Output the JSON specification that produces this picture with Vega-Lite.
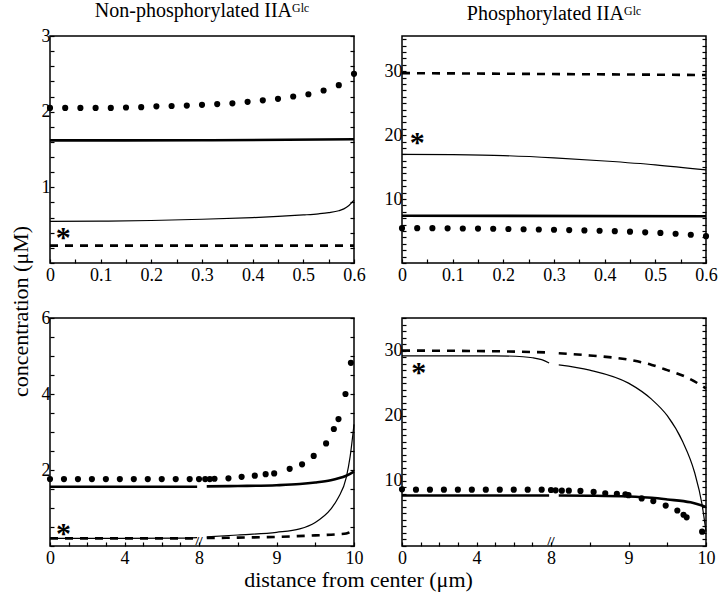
{
  "$schema": "https://vega.github.io/schema/vega-lite/v6.json",
  "background": "white",
  "padding": {"left": 8, "top": 0, "right": 4, "bottom": 4},
  "bounds": "flush",
  "columns": 2,
  "spacing": {"row": 55, "column": 48},
  "config": {
    "font": "Liberation Serif",
    "view": {"stroke": "black", "strokeWidth": 1.5},
    "line": {"interpolate": "monotone"},
    "axis": {"domain": false, "grid": false, "tickColor": "black", "tickWidth": 1.2, "tickSize": -4, "labelFontSize": 18, "labelColor": "black", "labelFont": "Liberation Serif", "labelOverlap": false, "labelFlush": false, "labelPadding": 4, "titleColor": "black", "titleFont": "Liberation Serif", "titleFontWeight": "normal"},
    "axisX": {"labelPadding": 7},
    "title": {"font": "Liberation Serif", "fontSize": 20, "fontWeight": "normal", "color": "black", "anchor": "middle", "offset": 6}
  },
  "datasets": {
    "tl": [
      {"s": "thick", "g": 0, "x": 0, "y": 1.62}, {"s": "thick", "g": 0, "x": 0.3, "y": 1.622}, {"s": "thick", "g": 0, "x": 0.6, "y": 1.635},
      {"s": "thin", "g": 0, "x": 0, "y": 0.55}, {"s": "thin", "g": 0, "x": 0.1, "y": 0.553}, {"s": "thin", "g": 0, "x": 0.2, "y": 0.562}, {"s": "thin", "g": 0, "x": 0.3, "y": 0.578}, {"s": "thin", "g": 0, "x": 0.4, "y": 0.6}, {"s": "thin", "g": 0, "x": 0.45, "y": 0.615}, {"s": "thin", "g": 0, "x": 0.5, "y": 0.635}, {"s": "thin", "g": 0, "x": 0.53, "y": 0.65}, {"s": "thin", "g": 0, "x": 0.55, "y": 0.665}, {"s": "thin", "g": 0, "x": 0.57, "y": 0.69}, {"s": "thin", "g": 0, "x": 0.58, "y": 0.715}, {"s": "thin", "g": 0, "x": 0.59, "y": 0.76}, {"s": "thin", "g": 0, "x": 0.6, "y": 0.83},
      {"s": "dash", "g": 0, "x": 0, "y": 0.23}, {"s": "dash", "g": 0, "x": 0.6, "y": 0.23},
      {"s": "dot", "g": 0, "x": 0, "y": 2.05}, {"s": "dot", "g": 0, "x": 0.03, "y": 2.05}, {"s": "dot", "g": 0, "x": 0.06, "y": 2.05}, {"s": "dot", "g": 0, "x": 0.09, "y": 2.05}, {"s": "dot", "g": 0, "x": 0.12, "y": 2.05}, {"s": "dot", "g": 0, "x": 0.15, "y": 2.055}, {"s": "dot", "g": 0, "x": 0.18, "y": 2.06}, {"s": "dot", "g": 0, "x": 0.21, "y": 2.07}, {"s": "dot", "g": 0, "x": 0.24, "y": 2.075}, {"s": "dot", "g": 0, "x": 0.27, "y": 2.08}, {"s": "dot", "g": 0, "x": 0.3, "y": 2.09}, {"s": "dot", "g": 0, "x": 0.33, "y": 2.1}, {"s": "dot", "g": 0, "x": 0.36, "y": 2.11}, {"s": "dot", "g": 0, "x": 0.39, "y": 2.13}, {"s": "dot", "g": 0, "x": 0.42, "y": 2.15}, {"s": "dot", "g": 0, "x": 0.45, "y": 2.17}, {"s": "dot", "g": 0, "x": 0.48, "y": 2.2}, {"s": "dot", "g": 0, "x": 0.51, "y": 2.23}, {"s": "dot", "g": 0, "x": 0.54, "y": 2.28}, {"s": "dot", "g": 0, "x": 0.57, "y": 2.35}, {"s": "dot", "g": 0, "x": 0.6, "y": 2.5}
    ],
    "tr": [
      {"s": "thick", "g": 0, "x": 0, "y": 7.4}, {"s": "thick", "g": 0, "x": 0.6, "y": 7.3},
      {"s": "thin", "g": 0, "x": 0, "y": 17.0}, {"s": "thin", "g": 0, "x": 0.1, "y": 16.95}, {"s": "thin", "g": 0, "x": 0.2, "y": 16.8}, {"s": "thin", "g": 0, "x": 0.3, "y": 16.45}, {"s": "thin", "g": 0, "x": 0.4, "y": 15.95}, {"s": "thin", "g": 0, "x": 0.5, "y": 15.35}, {"s": "thin", "g": 0, "x": 0.6, "y": 14.55},
      {"s": "dash", "g": 0, "x": 0, "y": 29.7}, {"s": "dash", "g": 0, "x": 0.6, "y": 29.4},
      {"s": "dot", "g": 0, "x": 0, "y": 5.45}, {"s": "dot", "g": 0, "x": 0.03, "y": 5.45}, {"s": "dot", "g": 0, "x": 0.06, "y": 5.45}, {"s": "dot", "g": 0, "x": 0.09, "y": 5.42}, {"s": "dot", "g": 0, "x": 0.12, "y": 5.4}, {"s": "dot", "g": 0, "x": 0.15, "y": 5.38}, {"s": "dot", "g": 0, "x": 0.18, "y": 5.35}, {"s": "dot", "g": 0, "x": 0.21, "y": 5.32}, {"s": "dot", "g": 0, "x": 0.24, "y": 5.28}, {"s": "dot", "g": 0, "x": 0.27, "y": 5.24}, {"s": "dot", "g": 0, "x": 0.3, "y": 5.2}, {"s": "dot", "g": 0, "x": 0.33, "y": 5.15}, {"s": "dot", "g": 0, "x": 0.36, "y": 5.1}, {"s": "dot", "g": 0, "x": 0.39, "y": 5.05}, {"s": "dot", "g": 0, "x": 0.42, "y": 4.98}, {"s": "dot", "g": 0, "x": 0.45, "y": 4.9}, {"s": "dot", "g": 0, "x": 0.48, "y": 4.8}, {"s": "dot", "g": 0, "x": 0.51, "y": 4.7}, {"s": "dot", "g": 0, "x": 0.54, "y": 4.58}, {"s": "dot", "g": 0, "x": 0.57, "y": 4.42}, {"s": "dot", "g": 0, "x": 0.6, "y": 4.2}
    ],
    "bl": [
      {"s": "thick", "g": 0, "x": 0, "y": 1.56}, {"s": "thick", "g": 0, "x": 7.9, "y": 1.56},
      {"s": "thick", "g": 1, "x": 8.1, "y": 1.57}, {"s": "thick", "g": 1, "x": 8.5, "y": 1.58}, {"s": "thick", "g": 1, "x": 9, "y": 1.6}, {"s": "thick", "g": 1, "x": 9.3, "y": 1.63}, {"s": "thick", "g": 1, "x": 9.5, "y": 1.67}, {"s": "thick", "g": 1, "x": 9.7, "y": 1.73}, {"s": "thick", "g": 1, "x": 9.8, "y": 1.78}, {"s": "thick", "g": 1, "x": 9.9, "y": 1.85}, {"s": "thick", "g": 1, "x": 10, "y": 1.96},
      {"s": "thin", "g": 0, "x": 0, "y": 0.2}, {"s": "thin", "g": 0, "x": 7, "y": 0.205}, {"s": "thin", "g": 0, "x": 7.9, "y": 0.22},
      {"s": "thin", "g": 1, "x": 8.1, "y": 0.24}, {"s": "thin", "g": 1, "x": 8.5, "y": 0.29}, {"s": "thin", "g": 1, "x": 9, "y": 0.36}, {"s": "thin", "g": 1, "x": 9.3, "y": 0.45}, {"s": "thin", "g": 1, "x": 9.5, "y": 0.62}, {"s": "thin", "g": 1, "x": 9.7, "y": 0.97}, {"s": "thin", "g": 1, "x": 9.8, "y": 1.28}, {"s": "thin", "g": 1, "x": 9.9, "y": 1.8}, {"s": "thin", "g": 1, "x": 9.95, "y": 2.35}, {"s": "thin", "g": 1, "x": 10, "y": 3.2},
      {"s": "dash", "g": 0, "x": 0, "y": 0.2}, {"s": "dash", "g": 0, "x": 7.9, "y": 0.2},
      {"s": "dash", "g": 1, "x": 8.1, "y": 0.21}, {"s": "dash", "g": 1, "x": 8.5, "y": 0.22}, {"s": "dash", "g": 1, "x": 9, "y": 0.24}, {"s": "dash", "g": 1, "x": 9.5, "y": 0.28}, {"s": "dash", "g": 1, "x": 9.8, "y": 0.31}, {"s": "dash", "g": 1, "x": 9.9, "y": 0.33}, {"s": "dash", "g": 1, "x": 10, "y": 0.42},
      {"s": "dot", "g": 0, "x": 0, "y": 1.76}, {"s": "dot", "g": 0, "x": 0.75, "y": 1.76}, {"s": "dot", "g": 0, "x": 1.5, "y": 1.76}, {"s": "dot", "g": 0, "x": 2.25, "y": 1.76}, {"s": "dot", "g": 0, "x": 3, "y": 1.76}, {"s": "dot", "g": 0, "x": 3.75, "y": 1.76}, {"s": "dot", "g": 0, "x": 4.5, "y": 1.76}, {"s": "dot", "g": 0, "x": 5.25, "y": 1.76}, {"s": "dot", "g": 0, "x": 6, "y": 1.76}, {"s": "dot", "g": 0, "x": 6.75, "y": 1.76}, {"s": "dot", "g": 0, "x": 7.5, "y": 1.76}, {"s": "dot", "g": 0, "x": 8, "y": 1.76},
      {"s": "dot", "g": 1, "x": 8.08, "y": 1.76}, {"s": "dot", "g": 1, "x": 8.14, "y": 1.76}, {"s": "dot", "g": 1, "x": 8.2, "y": 1.77}, {"s": "dot", "g": 1, "x": 8.38, "y": 1.78}, {"s": "dot", "g": 1, "x": 8.55, "y": 1.82}, {"s": "dot", "g": 1, "x": 8.72, "y": 1.85}, {"s": "dot", "g": 1, "x": 8.86, "y": 1.89}, {"s": "dot", "g": 1, "x": 8.97, "y": 1.91}, {"s": "dot", "g": 1, "x": 9.17, "y": 2.03}, {"s": "dot", "g": 1, "x": 9.33, "y": 2.15}, {"s": "dot", "g": 1, "x": 9.48, "y": 2.37}, {"s": "dot", "g": 1, "x": 9.64, "y": 2.7}, {"s": "dot", "g": 1, "x": 9.74, "y": 3.08}, {"s": "dot", "g": 1, "x": 9.8, "y": 3.34}, {"s": "dot", "g": 1, "x": 9.89, "y": 4.0}, {"s": "dot", "g": 1, "x": 9.96, "y": 4.82}
    ],
    "br": [
      {"s": "thick", "g": 0, "x": 0, "y": 7.75}, {"s": "thick", "g": 0, "x": 7.9, "y": 7.75},
      {"s": "thick", "g": 1, "x": 8.1, "y": 7.75}, {"s": "thick", "g": 1, "x": 8.5, "y": 7.72}, {"s": "thick", "g": 1, "x": 9, "y": 7.6}, {"s": "thick", "g": 1, "x": 9.3, "y": 7.4}, {"s": "thick", "g": 1, "x": 9.5, "y": 7.15}, {"s": "thick", "g": 1, "x": 9.8, "y": 6.7}, {"s": "thick", "g": 1, "x": 10, "y": 6.0},
      {"s": "thin", "g": 0, "x": 0, "y": 29.2}, {"s": "thin", "g": 0, "x": 5, "y": 29.2}, {"s": "thin", "g": 0, "x": 6.5, "y": 29.05}, {"s": "thin", "g": 0, "x": 7, "y": 28.9}, {"s": "thin", "g": 0, "x": 7.5, "y": 28.6}, {"s": "thin", "g": 0, "x": 7.9, "y": 28.1},
      {"s": "thin", "g": 1, "x": 8.1, "y": 27.8}, {"s": "thin", "g": 1, "x": 8.5, "y": 27.0}, {"s": "thin", "g": 1, "x": 9, "y": 25.0}, {"s": "thin", "g": 1, "x": 9.3, "y": 22.5}, {"s": "thin", "g": 1, "x": 9.5, "y": 20.0}, {"s": "thin", "g": 1, "x": 9.7, "y": 16.0}, {"s": "thin", "g": 1, "x": 9.85, "y": 11.4}, {"s": "thin", "g": 1, "x": 9.95, "y": 6.3}, {"s": "thin", "g": 1, "x": 10, "y": 2.2},
      {"s": "dash", "g": 0, "x": 0, "y": 30.0}, {"s": "dash", "g": 0, "x": 5, "y": 29.9}, {"s": "dash", "g": 0, "x": 7.9, "y": 29.7},
      {"s": "dash", "g": 1, "x": 8.1, "y": 29.6}, {"s": "dash", "g": 1, "x": 8.5, "y": 29.25}, {"s": "dash", "g": 1, "x": 9, "y": 28.6}, {"s": "dash", "g": 1, "x": 9.3, "y": 27.8}, {"s": "dash", "g": 1, "x": 9.5, "y": 27.0}, {"s": "dash", "g": 1, "x": 9.75, "y": 25.9}, {"s": "dash", "g": 1, "x": 10, "y": 24.2},
      {"s": "dot", "g": 0, "x": 0, "y": 8.7}, {"s": "dot", "g": 0, "x": 0.75, "y": 8.65}, {"s": "dot", "g": 0, "x": 1.5, "y": 8.65}, {"s": "dot", "g": 0, "x": 2.25, "y": 8.65}, {"s": "dot", "g": 0, "x": 3, "y": 8.65}, {"s": "dot", "g": 0, "x": 3.75, "y": 8.65}, {"s": "dot", "g": 0, "x": 4.5, "y": 8.65}, {"s": "dot", "g": 0, "x": 5.25, "y": 8.65}, {"s": "dot", "g": 0, "x": 6, "y": 8.65}, {"s": "dot", "g": 0, "x": 6.75, "y": 8.65}, {"s": "dot", "g": 0, "x": 7.5, "y": 8.65}, {"s": "dot", "g": 0, "x": 8, "y": 8.6},
      {"s": "dot", "g": 1, "x": 8.06, "y": 8.55}, {"s": "dot", "g": 1, "x": 8.14, "y": 8.5}, {"s": "dot", "g": 1, "x": 8.23, "y": 8.5}, {"s": "dot", "g": 1, "x": 8.38, "y": 8.45}, {"s": "dot", "g": 1, "x": 8.55, "y": 8.3}, {"s": "dot", "g": 1, "x": 8.7, "y": 8.1}, {"s": "dot", "g": 1, "x": 8.85, "y": 8.0}, {"s": "dot", "g": 1, "x": 8.96, "y": 7.95}, {"s": "dot", "g": 1, "x": 9.0, "y": 7.8}, {"s": "dot", "g": 1, "x": 9.17, "y": 7.3}, {"s": "dot", "g": 1, "x": 9.32, "y": 6.9}, {"s": "dot", "g": 1, "x": 9.48, "y": 6.2}, {"s": "dot", "g": 1, "x": 9.63, "y": 5.45}, {"s": "dot", "g": 1, "x": 9.71, "y": 4.8}, {"s": "dot", "g": 1, "x": 9.75, "y": 4.4}, {"s": "dot", "g": 1, "x": 9.95, "y": 2.2}
    ]
  },
  "concat": [
    {
      "width": 304, "height": 227,
      "title": {"text": "Non-phosphorylated IIAᴳˡᶜ"},
      "data": {"name": "tl"},
      "resolve": {"axis": {"x": "independent", "y": "independent"}},
      "layer": [
        {"transform": [{"filter": "datum.s == 'thick'"}], "mark": {"type": "line", "color": "black", "strokeWidth": 2.6},
         "encoding": {
           "x": {"field": "x", "type": "quantitative", "scale": {"domain": [0, 0.6], "nice": false, "zero": false}, "axis": {"title": null, "orient": "bottom", "values": [0, 0.05, 0.1, 0.15, 0.2, 0.25, 0.3, 0.35, 0.4, 0.45, 0.5, 0.55, 0.6], "labelExpr": "abs(datum.value*10 - round(datum.value*10)) < 0.000001 ? format(datum.value, '.1~f') : ''"}},
           "y": {"field": "y", "type": "quantitative", "scale": {"domain": [0, 3], "nice": false, "zero": false}, "axis": {"title": null, "orient": "left", "values": [0, 0.2, 0.4, 0.6, 0.8, 1, 1.2, 1.4, 1.6, 1.8, 2, 2.2, 2.4, 2.6, 2.8, 3], "labelExpr": "datum.value > 0 && abs(datum.value - round(datum.value)) < 0.000001 ? format(datum.value, 'd') : ''"}},
           "detail": {"field": "g"}}},
        {"transform": [{"filter": "datum.s == 'thin'"}], "mark": {"type": "line", "color": "black", "strokeWidth": 1.2},
         "encoding": {
           "x": {"field": "x", "type": "quantitative", "scale": {"domain": [0, 0.6], "nice": false, "zero": false}, "axis": null},
           "y": {"field": "y", "type": "quantitative", "scale": {"domain": [0, 3], "nice": false, "zero": false}, "axis": {"title": null, "orient": "right", "labels": false, "values": [0, 0.2, 0.4, 0.6, 0.8, 1, 1.2, 1.4, 1.6, 1.8, 2, 2.2, 2.4, 2.6, 2.8, 3]}},
           "detail": {"field": "g"}}},
        {"transform": [{"filter": "datum.s == 'dash'"}], "mark": {"type": "line", "color": "black", "strokeWidth": 2.6, "strokeDash": [8, 7]},
         "encoding": {
           "x": {"field": "x", "type": "quantitative", "scale": {"domain": [0, 0.6], "nice": false, "zero": false}, "axis": null},
           "y": {"field": "y", "type": "quantitative", "scale": {"domain": [0, 3], "nice": false, "zero": false}, "axis": null},
           "detail": {"field": "g"}}},
        {"transform": [{"filter": "datum.s == 'dot'"}], "mark": {"type": "circle", "color": "black", "opacity": 1, "size": 38},
         "encoding": {
           "x": {"field": "x", "type": "quantitative", "scale": {"domain": [0, 0.6], "nice": false, "zero": false}, "axis": null},
           "y": {"field": "y", "type": "quantitative", "scale": {"domain": [0, 3], "nice": false, "zero": false}, "axis": null}}},
        {"data": {"values": [{"x": 0.026, "y": 0.4, "t": "*"}]}, "mark": {"type": "text", "color": "black", "fontSize": 30, "fontWeight": "bold", "baseline": "middle", "dy": 5},
         "encoding": {
           "x": {"field": "x", "type": "quantitative", "scale": {"domain": [0, 0.6], "nice": false, "zero": false}, "axis": null},
           "y": {"field": "y", "type": "quantitative", "scale": {"domain": [0, 3], "nice": false, "zero": false}, "axis": null},
           "text": {"field": "t"}}}
      ]
    },
    {
      "width": 304, "height": 227,
      "title": {"text": "Phosphorylated IIAᴳˡᶜ"},
      "data": {"name": "tr"},
      "resolve": {"axis": {"x": "independent", "y": "independent"}},
      "layer": [
        {"transform": [{"filter": "datum.s == 'thick'"}], "mark": {"type": "line", "color": "black", "strokeWidth": 2.6},
         "encoding": {
           "x": {"field": "x", "type": "quantitative", "scale": {"domain": [0, 0.6], "nice": false, "zero": false}, "axis": {"title": null, "orient": "bottom", "values": [0, 0.05, 0.1, 0.15, 0.2, 0.25, 0.3, 0.35, 0.4, 0.45, 0.5, 0.55, 0.6], "labelExpr": "abs(datum.value*10 - round(datum.value*10)) < 0.000001 ? format(datum.value, '.1~f') : ''"}},
           "y": {"field": "y", "type": "quantitative", "scale": {"domain": [0, 35.5], "nice": false, "zero": false}, "axis": {"title": null, "orient": "left", "values": [0, 1, 2, 3, 4, 5, 6, 7, 8, 9, 10, 11, 12, 13, 14, 15, 16, 17, 18, 19, 20, 21, 22, 23, 24, 25, 26, 27, 28, 29, 30, 31, 32, 33, 34, 35], "labelExpr": "datum.value > 0 && datum.value % 10 == 0 ? format(datum.value, 'd') : ''"}},
           "detail": {"field": "g"}}},
        {"transform": [{"filter": "datum.s == 'thin'"}], "mark": {"type": "line", "color": "black", "strokeWidth": 1.2},
         "encoding": {
           "x": {"field": "x", "type": "quantitative", "scale": {"domain": [0, 0.6], "nice": false, "zero": false}, "axis": null},
           "y": {"field": "y", "type": "quantitative", "scale": {"domain": [0, 35.5], "nice": false, "zero": false}, "axis": {"title": null, "orient": "right", "labels": false, "values": [0, 1, 2, 3, 4, 5, 6, 7, 8, 9, 10, 11, 12, 13, 14, 15, 16, 17, 18, 19, 20, 21, 22, 23, 24, 25, 26, 27, 28, 29, 30, 31, 32, 33, 34, 35]}},
           "detail": {"field": "g"}}},
        {"transform": [{"filter": "datum.s == 'dash'"}], "mark": {"type": "line", "color": "black", "strokeWidth": 2.6, "strokeDash": [8, 7]},
         "encoding": {
           "x": {"field": "x", "type": "quantitative", "scale": {"domain": [0, 0.6], "nice": false, "zero": false}, "axis": null},
           "y": {"field": "y", "type": "quantitative", "scale": {"domain": [0, 35.5], "nice": false, "zero": false}, "axis": null},
           "detail": {"field": "g"}}},
        {"transform": [{"filter": "datum.s == 'dot'"}], "mark": {"type": "circle", "color": "black", "opacity": 1, "size": 38},
         "encoding": {
           "x": {"field": "x", "type": "quantitative", "scale": {"domain": [0, 0.6], "nice": false, "zero": false}, "axis": null},
           "y": {"field": "y", "type": "quantitative", "scale": {"domain": [0, 35.5], "nice": false, "zero": false}, "axis": null}}},
        {"data": {"values": [{"x": 0.03, "y": 19.6, "t": "*"}]}, "mark": {"type": "text", "color": "black", "fontSize": 30, "fontWeight": "bold", "baseline": "middle", "dy": 5},
         "encoding": {
           "x": {"field": "x", "type": "quantitative", "scale": {"domain": [0, 0.6], "nice": false, "zero": false}, "axis": null},
           "y": {"field": "y", "type": "quantitative", "scale": {"domain": [0, 35.5], "nice": false, "zero": false}, "axis": null},
           "text": {"field": "t"}}}
      ]
    },
    {
      "width": 304, "height": 228,
      "data": {"name": "bl"},
      "resolve": {"axis": {"x": "independent", "y": "independent"}},
      "layer": [
        {"transform": [{"filter": "datum.s == 'thick'"}], "mark": {"type": "line", "color": "black", "strokeWidth": 2.6},
         "encoding": {
           "x": {"field": "x", "type": "quantitative", "scale": {"domain": [0, 8, 10], "range": [0, 149, 304], "nice": false, "zero": false}, "axis": {"title": "distance from center (μm)", "titleFontSize": 22, "titleX": 308, "titleY": 40, "titleAlign": "center", "titleBaseline": "alphabetic", "orient": "bottom", "values": [0, 1, 2, 3, 4, 5, 6, 7, 8, 8.5, 9, 9.5, 10], "labelExpr": "indexof([0, 4, 8, 9, 10], datum.value) >= 0 ? format(datum.value, 'd') : ''"}},
           "y": {"field": "y", "type": "quantitative", "scale": {"domain": [0, 6], "nice": false, "zero": false}, "axis": {"title": "concentration (μM)", "titleFontSize": 22, "titleAngle": -90, "titleX": -30, "titleY": -7, "titleAlign": "center", "titleBaseline": "middle", "orient": "left", "values": [0, 0.5, 1, 1.5, 2, 2.5, 3, 3.5, 4, 4.5, 5, 5.5, 6], "labelExpr": "datum.value > 0 && datum.value % 2 == 0 ? format(datum.value, 'd') : ''"}},
           "detail": {"field": "g"}}},
        {"transform": [{"filter": "datum.s == 'thin'"}], "mark": {"type": "line", "color": "black", "strokeWidth": 1.2},
         "encoding": {
           "x": {"field": "x", "type": "quantitative", "scale": {"domain": [0, 8, 10], "range": [0, 149, 304], "nice": false, "zero": false}, "axis": null},
           "y": {"field": "y", "type": "quantitative", "scale": {"domain": [0, 6], "nice": false, "zero": false}, "axis": {"title": null, "orient": "right", "labels": false, "values": [0, 0.5, 1, 1.5, 2, 2.5, 3, 3.5, 4, 4.5, 5, 5.5, 6]}},
           "detail": {"field": "g"}}},
        {"transform": [{"filter": "datum.s == 'dash'"}], "mark": {"type": "line", "color": "black", "strokeWidth": 2.6, "strokeDash": [8, 7]},
         "encoding": {
           "x": {"field": "x", "type": "quantitative", "scale": {"domain": [0, 8, 10], "range": [0, 149, 304], "nice": false, "zero": false}, "axis": null},
           "y": {"field": "y", "type": "quantitative", "scale": {"domain": [0, 6], "nice": false, "zero": false}, "axis": null},
           "detail": {"field": "g"}}},
        {"transform": [{"filter": "datum.s == 'dot'"}], "mark": {"type": "circle", "color": "black", "opacity": 1, "size": 38},
         "encoding": {
           "x": {"field": "x", "type": "quantitative", "scale": {"domain": [0, 8, 10], "range": [0, 149, 304], "nice": false, "zero": false}, "axis": null},
           "y": {"field": "y", "type": "quantitative", "scale": {"domain": [0, 6], "nice": false, "zero": false}, "axis": null}}},
        {"data": {"values": [{"x": 0.73, "y": 0.46, "t": "*"}]}, "mark": {"type": "text", "color": "black", "fontSize": 30, "fontWeight": "bold", "baseline": "middle", "dy": 5},
         "encoding": {
           "x": {"field": "x", "type": "quantitative", "scale": {"domain": [0, 8, 10], "range": [0, 149, 304], "nice": false, "zero": false}, "axis": null},
           "y": {"field": "y", "type": "quantitative", "scale": {"domain": [0, 6], "nice": false, "zero": false}, "axis": null},
           "text": {"field": "t"}}},
        {"data": {"values": [{"x": 8, "y": 0, "t": "//"}]}, "mark": {"type": "text", "color": "black", "fontSize": 13, "fontWeight": "bold", "baseline": "middle", "dy": -5},
         "encoding": {
           "x": {"field": "x", "type": "quantitative", "scale": {"domain": [0, 8, 10], "range": [0, 149, 304], "nice": false, "zero": false}, "axis": null},
           "y": {"field": "y", "type": "quantitative", "scale": {"domain": [0, 6], "nice": false, "zero": false}, "axis": null},
           "text": {"field": "t"}}}
      ]
    },
    {
      "width": 304, "height": 228,
      "data": {"name": "br"},
      "resolve": {"axis": {"x": "independent", "y": "independent"}},
      "layer": [
        {"transform": [{"filter": "datum.s == 'thick'"}], "mark": {"type": "line", "color": "black", "strokeWidth": 2.6},
         "encoding": {
           "x": {"field": "x", "type": "quantitative", "scale": {"domain": [0, 8, 10], "range": [0, 149, 304], "nice": false, "zero": false}, "axis": {"title": null, "orient": "bottom", "values": [0, 1, 2, 3, 4, 5, 6, 7, 8, 8.5, 9, 9.5, 10], "labelExpr": "indexof([0, 4, 8, 9, 10], datum.value) >= 0 ? format(datum.value, 'd') : ''"}},
           "y": {"field": "y", "type": "quantitative", "scale": {"domain": [0, 35], "nice": false, "zero": false}, "axis": {"title": null, "orient": "left", "values": [0, 1, 2, 3, 4, 5, 6, 7, 8, 9, 10, 11, 12, 13, 14, 15, 16, 17, 18, 19, 20, 21, 22, 23, 24, 25, 26, 27, 28, 29, 30, 31, 32, 33, 34, 35], "labelExpr": "datum.value > 0 && datum.value % 10 == 0 ? format(datum.value, 'd') : ''"}},
           "detail": {"field": "g"}}},
        {"transform": [{"filter": "datum.s == 'thin'"}], "mark": {"type": "line", "color": "black", "strokeWidth": 1.2},
         "encoding": {
           "x": {"field": "x", "type": "quantitative", "scale": {"domain": [0, 8, 10], "range": [0, 149, 304], "nice": false, "zero": false}, "axis": null},
           "y": {"field": "y", "type": "quantitative", "scale": {"domain": [0, 35], "nice": false, "zero": false}, "axis": {"title": null, "orient": "right", "labels": false, "values": [0, 1, 2, 3, 4, 5, 6, 7, 8, 9, 10, 11, 12, 13, 14, 15, 16, 17, 18, 19, 20, 21, 22, 23, 24, 25, 26, 27, 28, 29, 30, 31, 32, 33, 34, 35]}},
           "detail": {"field": "g"}}},
        {"transform": [{"filter": "datum.s == 'dash'"}], "mark": {"type": "line", "color": "black", "strokeWidth": 2.6, "strokeDash": [8, 7]},
         "encoding": {
           "x": {"field": "x", "type": "quantitative", "scale": {"domain": [0, 8, 10], "range": [0, 149, 304], "nice": false, "zero": false}, "axis": null},
           "y": {"field": "y", "type": "quantitative", "scale": {"domain": [0, 35], "nice": false, "zero": false}, "axis": null},
           "detail": {"field": "g"}}},
        {"transform": [{"filter": "datum.s == 'dot'"}], "mark": {"type": "circle", "color": "black", "opacity": 1, "size": 38},
         "encoding": {
           "x": {"field": "x", "type": "quantitative", "scale": {"domain": [0, 8, 10], "range": [0, 149, 304], "nice": false, "zero": false}, "axis": null},
           "y": {"field": "y", "type": "quantitative", "scale": {"domain": [0, 35], "nice": false, "zero": false}, "axis": null}}},
        {"data": {"values": [{"x": 0.9, "y": 27.3, "t": "*"}]}, "mark": {"type": "text", "color": "black", "fontSize": 30, "fontWeight": "bold", "baseline": "middle", "dy": 5},
         "encoding": {
           "x": {"field": "x", "type": "quantitative", "scale": {"domain": [0, 8, 10], "range": [0, 149, 304], "nice": false, "zero": false}, "axis": null},
           "y": {"field": "y", "type": "quantitative", "scale": {"domain": [0, 35], "nice": false, "zero": false}, "axis": null},
           "text": {"field": "t"}}},
        {"data": {"values": [{"x": 8, "y": 0, "t": "//"}]}, "mark": {"type": "text", "color": "black", "fontSize": 13, "fontWeight": "bold", "baseline": "middle", "dy": -5},
         "encoding": {
           "x": {"field": "x", "type": "quantitative", "scale": {"domain": [0, 8, 10], "range": [0, 149, 304], "nice": false, "zero": false}, "axis": null},
           "y": {"field": "y", "type": "quantitative", "scale": {"domain": [0, 35], "nice": false, "zero": false}, "axis": null},
           "text": {"field": "t"}}}
      ]
    }
  ]
}
